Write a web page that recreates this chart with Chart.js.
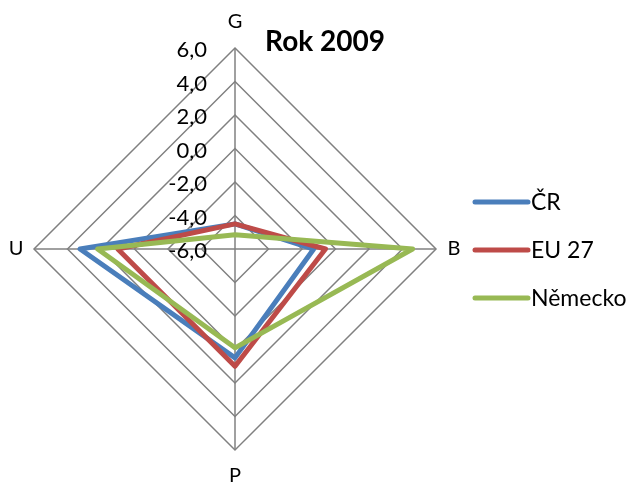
<!DOCTYPE html>
<html>
<head>
<meta charset="utf-8">
<script src="https://cdn.jsdelivr.net/npm/chart.js@4"></script>
<style>
  html, body { margin: 0; padding: 0; background: #ffffff; }
  #wrap { width: 636px; height: 484px; }
</style>
</head>
<body>
<div id="wrap"><canvas id="radar" width="636" height="484"></canvas></div>
<script>
// Axes of the radar, clockwise from the top
const categories = ['G', 'B', 'P', 'U'];

// Series values per axis (G, B, P, U)
const crValues = [-4.5, -1.3, 0.5, 3.25];
const euValues = [-4.5, -0.6, 1.0, 1.0];
const deValues = [-5.15, 4.6, -0.1, 2.2];

// Radial scale range and its tick labels
const scaleMin = -6;
const scaleMax = 6;
const scaleStep = 2;
const tickLabels = ['-6,0', '-4,0', '-2,0', '0,0', '2,0', '4,0', '6,0'];

const chartTitle = 'Rok 2009';
const FONT = 'Lato, "Open Sans", "DejaVu Sans", sans-serif';

// Draws the title, tick labels, axis names and the legend
const decorations = {
  id: 'decorations',
  afterDraw(chart) {
    const ctx = chart.ctx;
    const r = chart.scales.r;
    ctx.save();

    // tick labels, right-aligned just left of the vertical axis
    ctx.fillStyle = '#000000';
    ctx.font = '22px ' + FONT;
    ctx.textAlign = 'right';
    ctx.textBaseline = 'middle';
    r.ticks.forEach((t, i) => {
      const p = r.getPointPositionForValue(0, t.value);
      ctx.fillText(tickLabels[i], r.xCenter - 28, p.y + 2);
    });

    // axis names outside the outer ring
    ctx.font = '20px ' + FONT;
    ctx.textAlign = 'center';
    categories.forEach((name, i) => {
      const vertical = (i % 2 === 0);
      const p = r.getPointPosition(i, r.drawingArea + (vertical ? 26 : 18));
      ctx.fillText(name, p.x, p.y);
    });

    // title
    ctx.font = 'bold 28px ' + FONT;
    ctx.textAlign = 'center';
    ctx.textBaseline = 'alphabetic';
    ctx.fillText(chartTitle, 325, 51);

    // legend
    const rowY = [202, 250, 298];
    chart.data.datasets.forEach((ds, i) => {
      const y = rowY[i];
      ctx.strokeStyle = ds.borderColor;
      ctx.lineWidth = 5;
      ctx.lineCap = 'round';
      ctx.beginPath();
      ctx.moveTo(475, y);
      ctx.lineTo(528, y);
      ctx.stroke();
      ctx.fillStyle = '#000000';
      ctx.font = '23px ' + FONT;
      ctx.textAlign = 'left';
      ctx.textBaseline = 'middle';
      ctx.fillText(ds.label, 531, y + 1);
    });

    ctx.restore();
  }
};

const makeSet = (label, values, color, order) => ({
  label: label,
  data: values,
  borderColor: color,
  backgroundColor: 'rgba(0,0,0,0)',
  borderWidth: 5,
  borderJoinStyle: 'round',
  fill: false,
  pointRadius: 0,
  pointHoverRadius: 0,
  order: order
});

new Chart(document.getElementById('radar'), {
  type: 'radar',
  data: {
    labels: categories,
    datasets: [
      makeSet('ČR', crValues, '#4a7ebb', 2),
      makeSet('EU 27', euValues, '#be4b48', 1),
      makeSet('Německo', deValues, '#98b954', 0)
    ]
  },
  options: {
    responsive: false,
    devicePixelRatio: 1,
    animation: false,
    layout: { padding: { left: 34, right: 200, top: 48, bottom: 34 } },
    plugins: {
      legend: { display: false },
      title: { display: false },
      tooltip: { enabled: false }
    },
    scales: {
      r: {
        min: scaleMin,
        max: scaleMax,
        ticks: { stepSize: scaleStep, display: false },
        pointLabels: { display: false },
        grid: { color: '#808080', lineWidth: 1.5, circular: false },
        angleLines: { color: '#808080', lineWidth: 1.5 }
      }
    }
  },
  plugins: [decorations]
});
</script>
</body>
</html>
